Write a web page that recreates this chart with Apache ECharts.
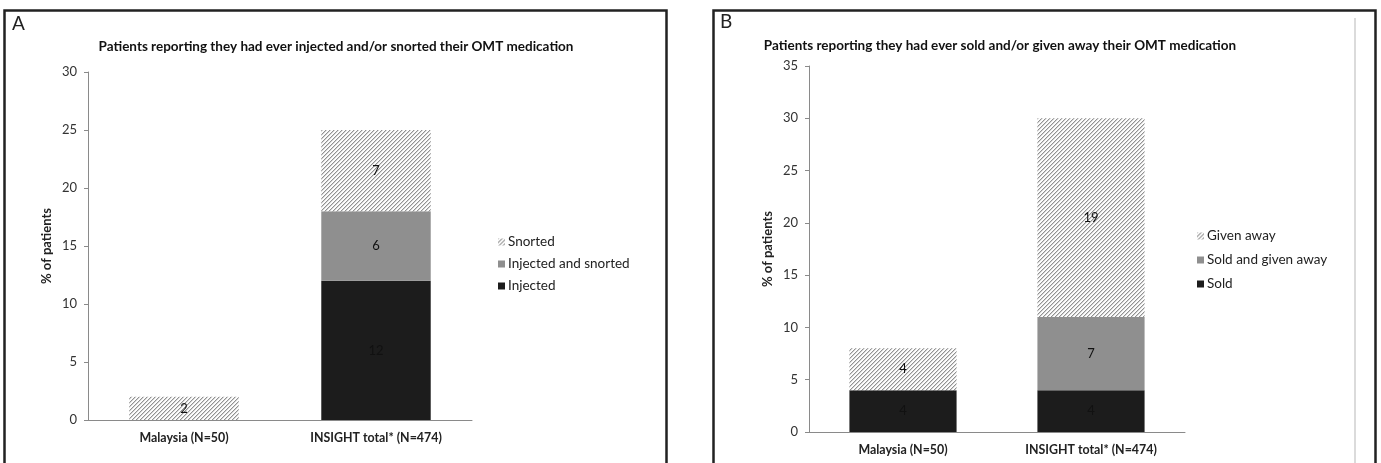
<!DOCTYPE html>
<html>
<head>
<meta charset="utf-8">
<script src="https://cdn.jsdelivr.net/npm/echarts@6/dist/echarts.min.js"></script>
<style>
  html, body { margin: 0; padding: 0; background: #fff; }
  #chart { width: 1381px; height: 463px; }
</style>
</head>
<body>
<div id="chart"></div>
<script>
// Categories shared by both panels
const categories = ['Malaysia (N=50)', 'INSIGHT total* (N=474)'];

// Panel A: injected and/or snorted (% of patients)
const injected = [0, 12];
const injectedAndSnorted = [0, 6];
const snorted = [2, 7];

// Panel B: sold and/or given away (% of patients)
const sold = [4, 4];
const soldAndGivenAway = [0, 7];
const givenAway = [4, 19];

const titleA = 'Patients reporting they had ever injected and/or snorted their OMT medication';
const titleB = 'Patients reporting they had ever sold and/or given away their OMT medication';
const yName = '% of patients';

// Fine diagonal hatch tile ("/" strokes), drawn pixel by pixel
function hatchPattern() {
  const n = 4;
  const c = document.createElement('canvas');
  c.width = n; c.height = n;
  const ctx = c.getContext('2d');
  const img = ctx.createImageData(n, n);
  for (let y = 0; y < n; y++) {
    for (let x = 0; x < n; x++) {
      const d = (x + y) % n;
      let v = 252;
      if (d === n - 1) v = 145;
      else if (d === 0) v = 212;
      const i = (y * n + x) * 4;
      img.data[i] = v; img.data[i + 1] = v; img.data[i + 2] = v; img.data[i + 3] = 255;
    }
  }
  ctx.putImageData(img, 0, 0);
  return { image: c, repeat: 'repeat' };
}
const hatch = hatchPattern();

const FONT = 'Lato, "Open Sans", sans-serif';

const chart = echarts.init(document.getElementById('chart'), null, { renderer: 'canvas' });

function barSeries(name, data, color, axisIdx) {
  return {
    name: name,
    type: 'bar',
    stack: 'stack' + axisIdx,
    xAxisIndex: axisIdx,
    yAxisIndex: axisIdx,
    data: data,
    barWidth: '57%',
    itemStyle: { color: color },
    label: {
      show: true,
      position: 'inside',
      color: '#111',
      fontFamily: FONT,
      fontSize: 13,
      formatter: p => (p.value ? String(p.value) : '')
    },
    emphasis: { disabled: true },
    animation: false
  };
}

function valueAxis(idx, max, nameGap) {
  return {
    gridIndex: idx,
    type: 'value',
    min: 0,
    max: max,
    interval: 5,
    name: yName,
    nameLocation: 'middle',
    nameGap: nameGap,
    nameTextStyle: { fontFamily: FONT, fontWeight: 'bold', fontSize: 13, color: '#222' },
    axisLine: { show: true, lineStyle: { color: '#8a8a8a', width: 1 } },
    axisTick: { show: true, length: 4, lineStyle: { color: '#8a8a8a' } },
    axisLabel: { margin: 11, fontFamily: FONT, fontSize: 13, color: '#333' },
    splitLine: { show: false }
  };
}

function categoryAxis(idx) {
  return {
    gridIndex: idx,
    type: 'category',
    data: categories,
    axisLine: { show: true, lineStyle: { color: '#8a8a8a', width: 1 } },
    axisTick: { show: false },
    axisLabel: { margin: 12, fontFamily: FONT, fontWeight: 'bold', fontSize: 12.4, color: '#222' }
  };
}

const legendCommon = {
  orient: 'vertical',
  itemWidth: 7,
  itemHeight: 7,
  icon: 'rect',
  textStyle: { fontFamily: FONT, fontSize: 13.5, color: '#222', padding: [0, 0, 0, -2] },
  selectedMode: false
};

const option = {
  animation: false,
  backgroundColor: '#fff',
  title: [
    { text: titleA, left: 331, top: 35, textAlign: 'center',
      textStyle: { fontFamily: FONT, fontWeight: 'bold', fontSize: 13.5, color: '#111' } },
    { text: titleB, left: 995, top: 34, textAlign: 'center',
      textStyle: { fontFamily: FONT, fontWeight: 'bold', fontSize: 13.5, color: '#111' } }
  ],
  grid: [
    { left: 88, right: 909, top: 72, bottom: 43 },
    { left: 809, right: 196, top: 66, bottom: 31 }
  ],
  xAxis: [categoryAxis(0), categoryAxis(1)],
  yAxis: [valueAxis(0, 30, 35), valueAxis(1, 35, 35)],
  legend: [
    Object.assign({}, legendCommon, {
      left: 493, top: 230, itemGap: 8,
      data: ['Snorted', 'Injected and snorted', 'Injected']
    }),
    Object.assign({}, legendCommon, {
      left: 1192, top: 224, itemGap: 10,
      data: ['Given away', 'Sold and given away', 'Sold']
    })
  ],
  series: [
    barSeries('Injected', injected, '#1c1c1c', 0),
    barSeries('Injected and snorted', injectedAndSnorted, '#8f8f8f', 0),
    barSeries('Snorted', snorted, hatch, 0),
    barSeries('Sold', sold, '#1c1c1c', 1),
    barSeries('Sold and given away', soldAndGivenAway, '#8f8f8f', 1),
    barSeries('Given away', givenAway, hatch, 1)
  ],
  graphic: [
    // panel frames
    { type: 'rect', shape: { x: 4.5, y: 10.5, width: 662, height: 470 },
      style: { fill: 'none', stroke: '#222', lineWidth: 2.5 }, silent: true, z: 100 },
    { type: 'rect', shape: { x: 713.5, y: 10.5, width: 662, height: 470 },
      style: { fill: 'none', stroke: '#222', lineWidth: 2.5 }, silent: true, z: 100 },
    { type: 'line', shape: { x1: 1355, y1: 18, x2: 1355, y2: 463 },
      style: { stroke: '#cfcfcf', lineWidth: 1.5 }, silent: true },
    // panel letters
    { type: 'text', left: 12, top: 14,
      style: { text: 'A', font: '19px ' + FONT, fill: '#222' } },
    { type: 'text', left: 720, top: 12,
      style: { text: 'B', font: '19px ' + FONT, fill: '#222' } }
  ]
};

chart.setOption(option);
</script>
</body>
</html>
